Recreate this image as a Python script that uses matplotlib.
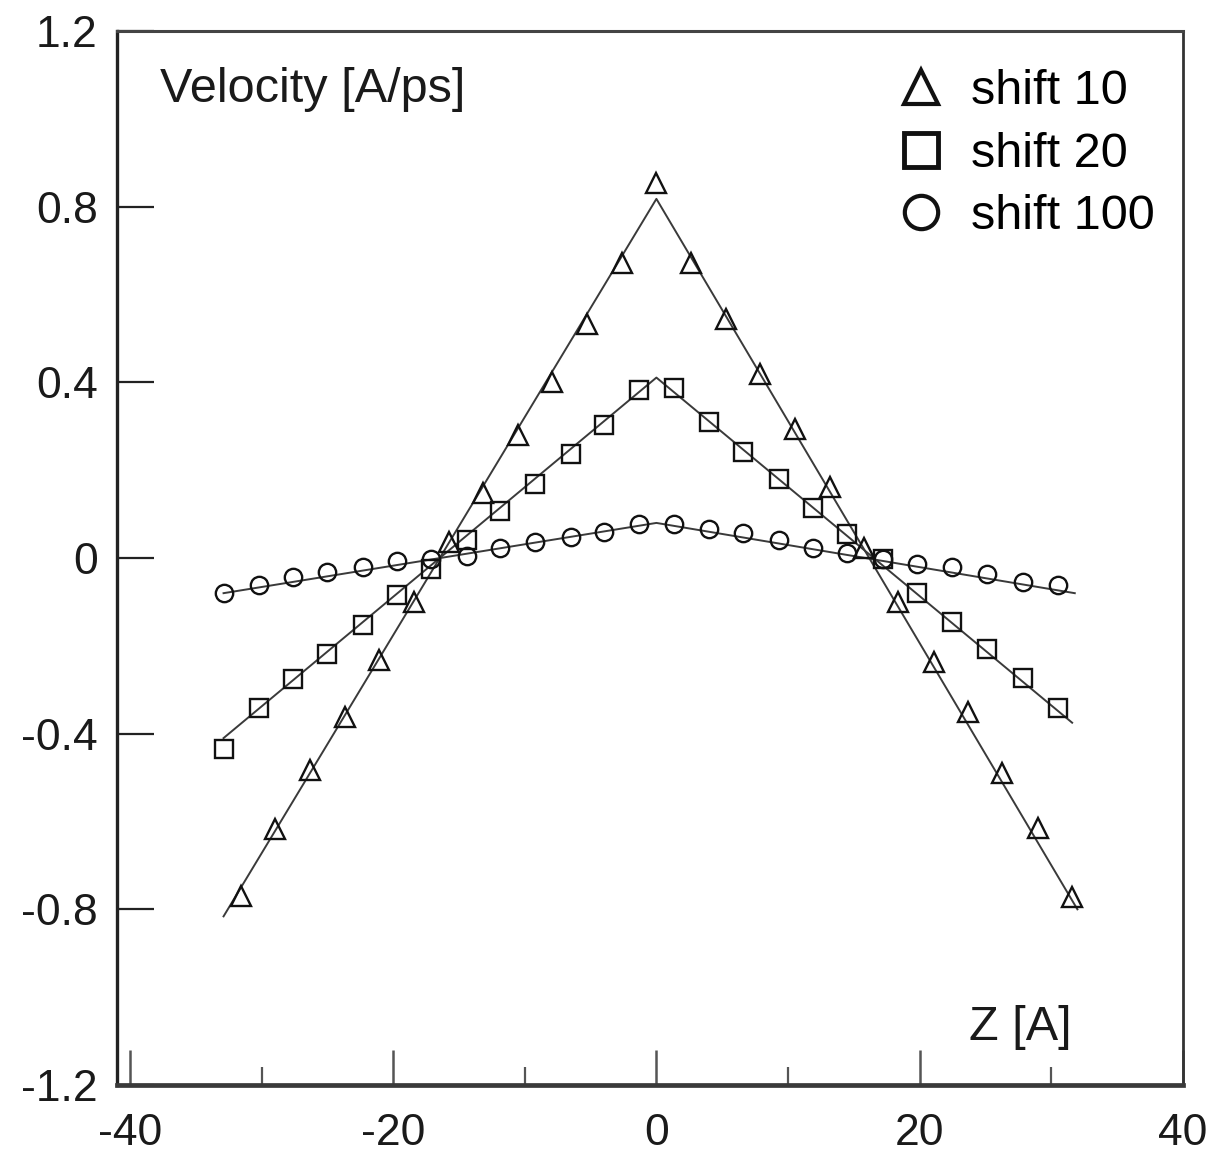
import matplotlib
matplotlib.use("Agg")
import matplotlib.pyplot as plt
from matplotlib.lines import Line2D
from matplotlib.ticker import MultipleLocator

plt.rcParams['font.family'] = ['Liberation Sans', 'DejaVu Sans']
plt.rcParams['axes.unicode_minus'] = False

# shift 10 (triangles)
z_shift10 = [-31.6, -29.0, -26.3, -23.7, -21.1, -18.4, -15.8, -13.2, -10.5, -7.9, -5.3, -2.6,
             0.0, 2.6, 5.3, 7.9, 10.5, 13.2, 15.8, 18.4, 21.1, 23.7, 26.3, 29.0, 31.6]
v_shift10 = [-0.770, -0.616, -0.482, -0.361, -0.232, -0.100, 0.036, 0.148, 0.280, 0.400, 0.534, 0.673,
             0.855, 0.673, 0.545, 0.420, 0.295, 0.161, 0.023, -0.100, -0.236, -0.350, -0.489, -0.614, -0.773]

# shift 20 (squares) and shift 100 (circles) share the same z grid
z_shift20 = [-32.9, -30.2, -27.6, -25.0, -22.3, -19.7, -17.1, -14.4, -11.9, -9.2, -6.5, -4.0,
             -1.3, 1.3, 4.0, 6.6, 9.3, 11.9, 14.5, 17.2, 19.8, 22.5, 25.1, 27.9, 30.5]
v_shift20 = [-0.436, -0.341, -0.275, -0.218, -0.152, -0.084, -0.025, 0.041, 0.107, 0.168, 0.236, 0.302,
             0.382, 0.387, 0.309, 0.241, 0.180, 0.114, 0.055, -0.003, -0.080, -0.145, -0.207, -0.273, -0.341]

z_shift100 = z_shift20
v_shift100 = [-0.080, -0.061, -0.043, -0.032, -0.020, -0.007, -0.002, 0.005, 0.023, 0.036, 0.048, 0.059,
              0.078, 0.078, 0.066, 0.057, 0.040, 0.023, 0.011, -0.002, -0.014, -0.020, -0.036, -0.055, -0.061]

# fitted profiles (piecewise linear)
fit10_z, fit10_v = [-32.9, 0.0, 32.0], [-0.816, 0.818, -0.800]
fit20_z, fit20_v = [-32.9, 0.0, 31.6], [-0.410, 0.411, -0.375]
fit100_z, fit100_v = [-32.9, 0.0, 31.8], [-0.080, 0.080, -0.080]

x_ticks = [-40, -20, 0, 20, 40]
y_ticks = [-1.2, -0.8, -0.4, 0, 0.4, 0.8, 1.2]
y_labels = ['-1.2', '-0.8', '-0.4', '0', '0.4', '0.8', '1.2']

fig = plt.figure(figsize=(12.11, 11.53), dpi=100)
ax = fig.add_axes([0.0966, 0.059, 0.880, 0.914])

line_kw = dict(color='#3a3a3a', lw=1.4, zorder=2)
ax.plot(fit10_z, fit10_v, **line_kw)
ax.plot(fit20_z, fit20_v, **line_kw)
ax.plot(fit100_z, fit100_v, **line_kw)

mk = dict(ls='none', mfc='none', mec='#111111', mew=1.7, zorder=3)
ax.plot(z_shift10, v_shift10, marker='^', ms=15, **mk)
ax.plot(z_shift20, v_shift20, marker='s', ms=13, **mk)
ax.plot(z_shift100, v_shift100, marker='o', ms=12.5, **mk)

ax.set_xlim(-41, 40)
ax.set_ylim(-1.2, 1.2)
ax.set_xticks(x_ticks)
ax.set_xticklabels([str(t) for t in x_ticks])
ax.xaxis.set_minor_locator(MultipleLocator(10))
ax.set_yticks(y_ticks)
ax.set_yticklabels(y_labels)

ax.tick_params(axis='x', which='major', direction='in', length=25, width=1.8,
               color='#555555', labelsize=32, pad=20, labelcolor='#1a1a1a')
ax.tick_params(axis='x', which='minor', direction='in', length=13, width=1.6, color='#555555')
ax.tick_params(axis='y', which='major', direction='in', length=26.5, width=1.6,
               color='#222222', labelsize=32, pad=14, labelcolor='#1a1a1a')

for side, w, c in [('left', 2.4, '#222222'), ('top', 2.2, '#444444'),
                   ('bottom', 3.4, '#3a3a3a'), ('right', 2.0, '#333333')]:
    ax.spines[side].set_linewidth(w)
    ax.spines[side].set_color(c)

ax.text(0.0403, 0.9326, 'Velocity [A/ps]', transform=ax.transAxes, fontsize=35,
        ha='left', va='baseline', color='#1a1a1a')
ax.text(0.896, 0.0427, 'Z [A]', transform=ax.transAxes, fontsize=35,
        ha='right', va='baseline', color='#1a1a1a')

handles = [
    Line2D([], [], ls='none', marker='^', ms=24, mfc='none', mec='#111111', mew=3),
    Line2D([], [], ls='none', marker='s', ms=24, mfc='none', mec='#111111', mew=3.5),
    Line2D([], [], ls='none', marker='o', ms=24, mfc='none', mec='#111111', mew=3),
]
ax.legend(handles, ['shift 10', 'shift 20', 'shift 100'], loc='upper right',
          bbox_to_anchor=(1.006, 0.996), frameon=False, fontsize=35,
          handlelength=1.0, handletextpad=0.53, labelspacing=0.36, borderpad=0.2)

fig.savefig('out.png', dpi=100)
